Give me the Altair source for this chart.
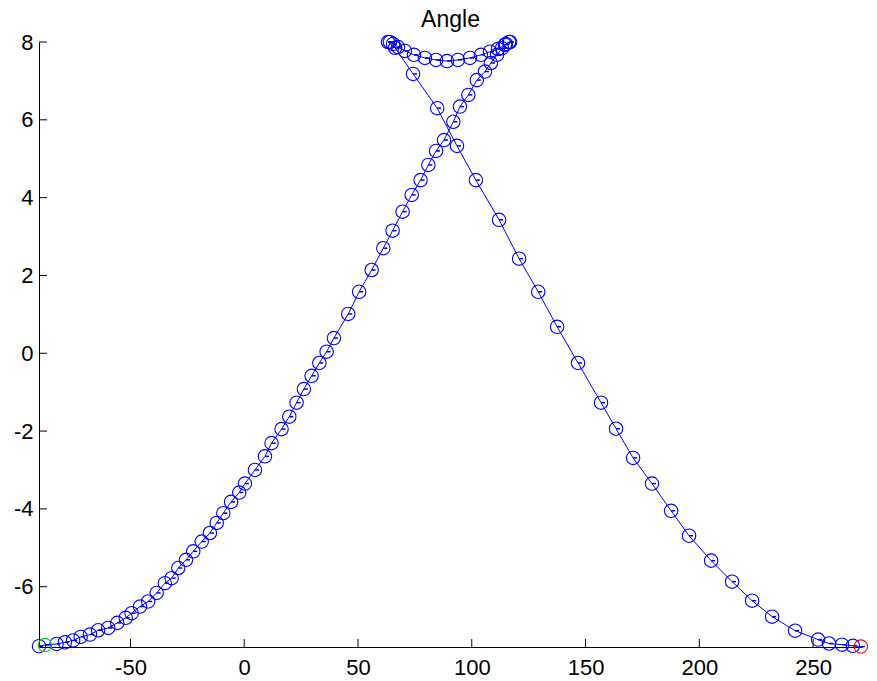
import altair as alt
import pandas as pd

x_vals = [-90.2, -87.6, -82.5, -78.8, -75.2, -71.9, -67.8, -64.2, -59.8, -55.8,
          -52.1, -49.5, -45.8, -42.2, -38.5, -34.9, -31.9, -29.0, -25.6, -22.4,
          -18.7, -15.1, -12.1, -9.2, -5.8, -2.2, 0.3, 4.7, 9.1, 12.0,
          16.4, 19.8, 23.0, 26.2, 29.6, 33.0, 36.2, 39.4, 45.7, 50.5,
          56.0, 61.1, 65.2, 69.6, 73.6, 77.5, 80.9, 84.3, 87.8, 91.9,
          94.8, 98.5, 102.2, 105.8, 108.4, 111.1, 113.3, 115.0, 116.4, 116.8,
          114.6, 111.5, 108.0, 104.0, 99.2, 93.9, 89.1, 84.3, 79.4, 74.6,
          70.6, 67.6, 65.4, 64.0, 63.2, 66.3, 74.2, 84.8, 93.5, 101.8,
          112.0, 120.8, 129.2, 137.5, 146.7, 156.8, 163.4, 170.9, 179.2, 187.6,
          195.5, 205.2, 214.4, 223.2, 232.0, 242.1, 252.2, 257.0, 262.7, 267.5,
          271.0]
y_vals = [-7.53, -7.50, -7.47, -7.43, -7.38, -7.29, -7.23, -7.12, -7.06, -6.93,
          -6.80, -6.68, -6.51, -6.38, -6.16, -5.91, -5.78, -5.52, -5.31, -5.09,
          -4.84, -4.62, -4.36, -4.11, -3.82, -3.58, -3.35, -3.00, -2.65, -2.31,
          -1.95, -1.63, -1.27, -0.92, -0.58, -0.25, 0.04, 0.39, 1.01, 1.58,
          2.14, 2.70, 3.15, 3.64, 4.07, 4.45, 4.84, 5.20, 5.48, 5.95,
          6.34, 6.64, 7.02, 7.24, 7.46, 7.67, 7.84, 7.95, 8.00, 8.00,
          7.93, 7.82, 7.75, 7.67, 7.59, 7.54, 7.51, 7.54, 7.59, 7.67,
          7.77, 7.87, 7.95, 8.00, 8.00, 7.85, 7.18, 6.30, 5.33, 4.45,
          3.43, 2.43, 1.58, 0.68, -0.25, -1.27, -1.94, -2.69, -3.35, -4.05,
          -4.69, -5.33, -5.87, -6.36, -6.77, -7.13, -7.36, -7.46, -7.49, -7.52,
          -7.54]
x_ticks = [-50, 0, 50, 100, 150, 200, 250]
y_ticks = [-6, -4, -2, 0, 2, 4, 6, 8]
x_domain = [-90.2, 271.5]
y_domain = [-7.55, 8.0]

W, H = 823, 605
BLUE = "#0000ff"

df = pd.DataFrame({"x": x_vals, "y": y_vals, "idx": list(range(len(x_vals)))})
df_start = df.iloc[[1]]
df_end = df.iloc[[len(df) - 1]]
df_blue = df.drop(index=[1, len(df) - 1])

xs = alt.Scale(domain=x_domain, nice=False, zero=False)
ys = alt.Scale(domain=y_domain, nice=False, zero=False)

font = "Liberation Sans"
lab = "'' + datum.value"
xaxis = alt.Axis(values=x_ticks, ticks=False, grid=False, domainColor="black",
                 labelFontSize=22, labelColor="black", labelFont=font, labelPadding=10,
                 title=None, labelFlush=False, labelExpr=lab)
yaxis = alt.Axis(values=y_ticks, ticks=False, grid=False, domainColor="black",
                 labelFontSize=22, labelColor="black", labelFont=font, labelPadding=6,
                 title=None, labelFlush=False, labelExpr=lab)

SZ = 180
line = alt.Chart(df).mark_line(color=BLUE, strokeWidth=1).encode(
    x=alt.X("x:Q", scale=xs, axis=xaxis),
    y=alt.Y("y:Q", scale=ys, axis=yaxis),
    order="idx:Q",
)
circles = alt.Chart(df_blue).mark_point(shape="circle", size=SZ, color=BLUE,
                                       filled=False, strokeWidth=1.1, opacity=1).encode(
    x=alt.X("x:Q", scale=xs), y=alt.Y("y:Q", scale=ys))
dashes = alt.Chart(df).mark_point(shape="M0,0L1,0", size=64, color="#0000cc",
                                  filled=False, strokeWidth=1.5, opacity=1).encode(
    x=alt.X("x:Q", scale=xs), y=alt.Y("y:Q", scale=ys))
start = alt.Chart(df_start).mark_point(shape="circle", size=SZ, color="#00cc00",
                                      filled=False, strokeWidth=1.1, opacity=1).encode(
    x=alt.X("x:Q", scale=xs), y=alt.Y("y:Q", scale=ys))
end = alt.Chart(df_end).mark_point(shape="circle", size=SZ, color="#ff0000",
                                  filled=False, strokeWidth=1.1, opacity=1).encode(
    x=alt.X("x:Q", scale=xs), y=alt.Y("y:Q", scale=ys))

xt = alt.Chart(pd.DataFrame({"t": x_ticks})).mark_rule(color="black", strokeWidth=1).encode(
    x=alt.X("t:Q", scale=xs), y=alt.value(H), y2=alt.value(H - 8))
yt = alt.Chart(pd.DataFrame({"t": y_ticks})).mark_rule(color="black", strokeWidth=1).encode(
    y=alt.Y("t:Q", scale=ys), x=alt.value(0), x2=alt.value(8))

chart = alt.layer(xt, yt, line, circles, dashes, start, end).properties(
    width=W, height=H,
    title=alt.TitleParams("Angle", fontSize=23, font=font, fontWeight="normal",
                          color="black", anchor="middle", offset=11, dy=12),
    autosize=alt.AutoSizeParams(type="none"),
    padding={"left": 39, "top": 42, "right": 15, "bottom": 34},
    background="white",
).configure_view(stroke="transparent", strokeWidth=0)

chart.save("out.html", embed_options={"renderer": "svg", "actions": False})
